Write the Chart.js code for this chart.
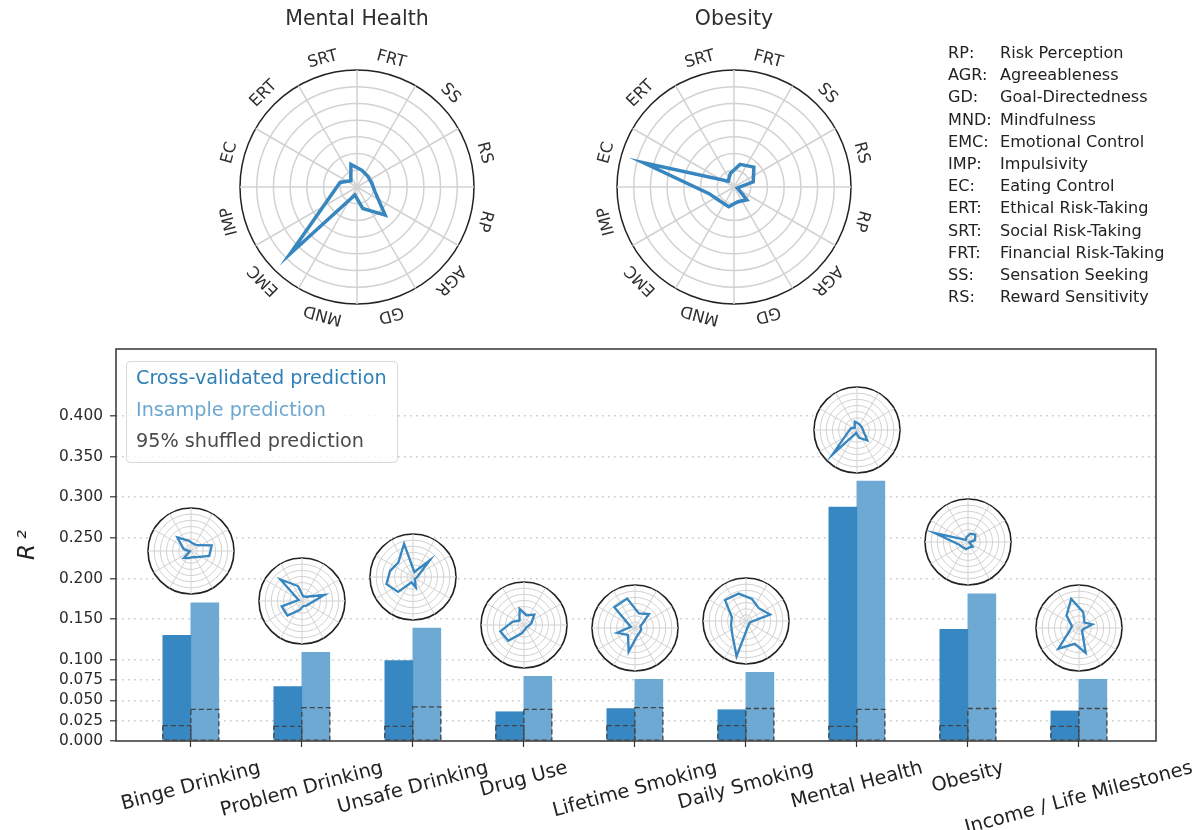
<!DOCTYPE html>
<html>
<head>
<meta charset="utf-8">
<title>Prediction of health outcomes from risk traits</title>
<script src="https://cdn.jsdelivr.net/npm/chart.js@4.4.1/dist/chart.umd.min.js"></script>
<style>
  html, body { margin: 0; padding: 0; background: #ffffff; }
  #page { position: relative; width: 1203px; height: 830px; overflow: hidden; font-family: 'DejaVu Sans', sans-serif; }
  #page canvas { position: absolute; }
  #abbr { position: absolute; left: 948px; top: 42px; font-size: 16.1px; line-height: 22.2px; color: #222; }
  #abbr div { white-space: nowrap; }
  #abbr span.code { display: inline-block; width: 52px; }
</style>
</head>
<body>
<div id="page">
  <canvas id="bars" width="1203" height="830" style="left:0;top:0"></canvas>
  <canvas id="radarMental" width="320" height="360" style="left:197px;top:0"></canvas>
  <canvas id="radarObesity" width="320" height="360" style="left:574px;top:0"></canvas>
  <div id="abbr"></div>
</div>
<script>
// ---- data -------------------------------------------------------------
const categories = ['Binge Drinking', 'Problem Drinking', 'Unsafe Drinking', 'Drug Use',
  'Lifetime Smoking', 'Daily Smoking', 'Mental Health', 'Obesity', 'Income / Life Milestones'];

const seriesNames = ['Cross-validated prediction', 'Insample prediction', '95% shuffled prediction'];

const cvR2            = [0.130, 0.067, 0.099, 0.036, 0.040, 0.0385, 0.288, 0.1375, 0.037];
const insampleR2      = [0.170, 0.109, 0.139, 0.0795, 0.076, 0.0845, 0.320, 0.181, 0.076];
const shuffledCvR2    = [0.019, 0.018, 0.018, 0.019, 0.019, 0.019, 0.018, 0.019, 0.018];
const shuffledInR2    = [0.039, 0.041, 0.042, 0.039, 0.041, 0.040, 0.039, 0.040, 0.040];

const yTickValues = [0, 0.025, 0.05, 0.075, 0.1, 0.15, 0.2, 0.25, 0.3, 0.35, 0.4];

const traitCodes = ['RP', 'AGR', 'GD', 'MND', 'EMC', 'IMP', 'EC', 'ERT', 'SRT', 'FRT', 'SS', 'RS'];
const traitNames = ['Risk Perception', 'Agreeableness', 'Goal-Directedness', 'Mindfulness',
  'Emotional Control', 'Impulsivity', 'Eating Control', 'Ethical Risk-Taking',
  'Social Risk-Taking', 'Financial Risk-Taking', 'Sensation Seeking', 'Reward Sensitivity'];

// trait weight profiles (order of traitCodes), radius as fraction of the outer ring
const profileBinge    = [0.44, 0.20, 0.15, 0.17, 0.23, 0.03, 0.18, 0.45, 0.25, 0.18, 0.19, 0.50];
const profileProblem  = [0.20, 0.15, 0.12, 0.22, 0.48, 0.49, 0.08, 0.71, 0.36, 0.11, 0.14, 0.54];
const profileUnsafe   = [0.08, 0.06, 0.25, 0.13, 0.49, 0.64, 0.55, 0.48, 0.80, 0.12, 0.55, 0.13];
const profileDrug     = [0.10, 0.08, 0.10, 0.20, 0.52, 0.57, 0.28, 0.15, 0.39, 0.23, 0.34, 0.18];
const profileLifetime = [0.15, 0.15, 0.19, 0.57, 0.23, 0.43, 0.10, 0.68, 0.71, 0.35, 0.46, 0.13];
const profileDaily    = [0.10, 0.10, 0.15, 0.85, 0.45, 0.36, 0.34, 0.69, 0.66, 0.53, 0.42, 0.58];
const profileMental   = [0.16, 0.34, 0.19, 0.07, 0.81, 0.22, 0.15, 0.075, 0.20, 0.15, 0.13, 0.13];
const profileObesity  = [0.03, 0.155, 0.13, 0.175, 0.17, 0.22, 0.80, 0.07, 0.12, 0.20, 0.24, 0.17];
const profileIncome   = [0.10, 0.10, 0.60, 0.38, 0.68, 0.22, 0.17, 0.41, 0.70, 0.38, 0.18, 0.32];

// ---- styling ----------------------------------------------------------
const FONT = 'DejaVu Sans';
const CV_COLOR = '#3787c2';
const IN_COLOR = '#6ea9d3';
const LINE_COLOR = '#3786bf';
const RING_GRAY = '#d2d2d2';
const X_MIN = -0.674, X_MAX = 8.695;
const Y_MAX = 0.4825;

const profiles = [profileBinge, profileProblem, profileUnsafe, profileDrug, profileLifetime,
  profileDaily, profileMental, profileObesity, profileIncome];

// ---- bar chart plugins --------------------------------------------------
const shuffledOutline = {
  id: 'shuffledOutline',
  afterDatasetsDraw(chart) {
    const ctx = chart.ctx;
    ctx.save();
    ctx.strokeStyle = '#444';
    ctx.lineWidth = 1.3;
    ctx.setLineDash([5, 3]);
    chart.data.datasets.forEach((ds, di) => {
      if (!ds.shuffled) return;
      chart.getDatasetMeta(di).data.forEach(el => {
        const p = el.getProps(['x', 'y', 'base', 'width'], true);
        ctx.strokeRect(p.x - p.width / 2, p.y, p.width, p.base - p.y);
      });
    });
    ctx.restore();
  }
};

const frameAndLegend = {
  id: 'frameAndLegend',
  afterDatasetsDraw(chart) {
    const ctx = chart.ctx;
    const a = chart.chartArea;
    ctx.save();
    // plot frame
    ctx.strokeStyle = '#333';
    ctx.lineWidth = 1.5;
    ctx.strokeRect(a.left, a.top, a.right - a.left, a.bottom - a.top);
    // legend box
    const bx = a.left + 10.5, by = a.top + 12.5, bw = 271, bh = 101, r = 4;
    ctx.beginPath();
    ctx.moveTo(bx + r, by);
    ctx.arcTo(bx + bw, by, bx + bw, by + bh, r);
    ctx.arcTo(bx + bw, by + bh, bx, by + bh, r);
    ctx.arcTo(bx, by + bh, bx, by, r);
    ctx.arcTo(bx, by, bx + bw, by, r);
    ctx.closePath();
    ctx.fillStyle = 'rgba(255,255,255,0.8)';
    ctx.fill();
    ctx.strokeStyle = '#d8d8d8';
    ctx.lineWidth = 1;
    ctx.stroke();
    const colors = ['#2f80b8', '#6ca7d0', '#4a4a4a'];
    ctx.font = '19.2px "' + FONT + '"';
    ctx.textAlign = 'left';
    ctx.textBaseline = 'middle';
    seriesNames.forEach((name, i) => {
      ctx.fillStyle = colors[i];
      ctx.fillText(name, a.left + 20, a.top + 30.5 + i * 31.2);
    });
    ctx.restore();
  }
};

const slantedCategoryLabels = {
  id: 'slantedCategoryLabels',
  afterDraw(chart) {
    const ctx = chart.ctx;
    const xs = chart.scales.x;
    const size = 19.4;
    const ang = 15 * Math.PI / 180;
    const top = chart.chartArea.bottom + 16;
    ctx.save();
    ctx.font = size + 'px "' + FONT + '"';
    ctx.fillStyle = '#222';
    ctx.textAlign = 'center';
    ctx.textBaseline = 'middle';
    categories.forEach((label, i) => {
      const w = ctx.measureText(label).width;
      const h = size * 1.16;
      const boxH = w * Math.sin(ang) + h * Math.cos(ang);
      const x = xs.getPixelForValue(i);
      ctx.save();
      ctx.translate(x, top + boxH / 2);
      ctx.rotate(-ang);
      ctx.fillText(label, 0, 0);
      ctx.restore();
    });
    ctx.restore();
  }
};

const toPoints = arr => arr.map((v, i) => ({ x: i, y: v }));

const barChart = new Chart(document.getElementById('bars'), {
  type: 'bar',
  data: {
    datasets: [
      { label: seriesNames[0], data: toPoints(cvR2), backgroundColor: CV_COLOR, stack: 'cv', barThickness: 28, borderWidth: 0 },
      { label: seriesNames[1], data: toPoints(insampleR2), backgroundColor: IN_COLOR, stack: 'in', barThickness: 28, borderWidth: 0 },
      { label: seriesNames[2], data: toPoints(shuffledCvR2), backgroundColor: 'rgba(0,0,0,0)', stack: 'cv', barThickness: 28, borderWidth: 0, shuffled: true },
      { label: seriesNames[2], data: toPoints(shuffledInR2), backgroundColor: 'rgba(0,0,0,0)', stack: 'in', barThickness: 28, borderWidth: 0, shuffled: true }
    ]
  },
  options: {
    responsive: false,
    animation: false,
    events: [],
    layout: { padding: { left: 0, top: 349, right: 47, bottom: 0 } },
    plugins: { legend: { display: false }, tooltip: { enabled: false } },
    scales: {
      x: {
        type: 'linear', min: X_MIN, max: X_MAX, offset: false, bounds: 'data',
        afterBuildTicks: s => { s.ticks = categories.map((c, i) => ({ value: i })); },
        afterFit: s => { s.height = 89; },
        ticks: { display: false },
        grid: { offset: false, drawOnChartArea: false, drawTicks: true, tickLength: 6, tickColor: '#333', tickWidth: 1.2 },
        border: { display: false }
      },
      y: {
        type: 'linear', min: 0, max: Y_MAX, stacked: false, bounds: 'data',
        afterBuildTicks: s => { s.ticks = yTickValues.map(v => ({ value: v })); },
        afterFit: s => { s.width = 116; },
        ticks: { callback: v => v.toFixed(3), color: '#2a2a2a', font: { family: FONT, size: 15.4 }, padding: 7 },
        grid: {
          color: c => (c.tick && c.tick.value === 0) ? 'rgba(0,0,0,0)' : '#c8c8c8',
          lineWidth: 1.6, tickColor: '#333', tickLength: 6, tickWidth: 1.2
        },
        border: { display: false, dash: [1.6, 4.4] },
        title: {
          display: true, text: 'R\u2009\u00b2', color: '#222',
          font: { family: FONT, size: 23, style: 'italic' },
          padding: { top: 14, bottom: 0 }
        }
      }
    }
  },
  plugins: [frameAndLegend, shuffledOutline, slantedCategoryLabels]
});

// ---- radar charts --------------------------------------------------------
// 24 angular slots of 15 degrees: traits sit on odd slots, spokes on even slots
const slotOf = i => (7 + 2 * i) % 24;
function toSlots(values) {
  const s = new Array(24).fill(null);
  values.forEach((v, i) => { s[slotOf(i)] = v; });
  return s;
}
const slotLabels = new Array(24).fill('');
traitCodes.forEach((c, i) => { slotLabels[slotOf(i)] = c; });

function tangentLabels(gap, size) {
  return {
    id: 'tangentLabels',
    afterDraw(chart) {
      const r = chart.scales.r;
      const ctx = chart.ctx;
      ctx.save();
      ctx.font = size + 'px "' + FONT + '"';
      ctx.fillStyle = '#2e2e2e';
      ctx.textAlign = 'center';
      ctx.textBaseline = 'middle';
      chart.data.labels.forEach((lab, i) => {
        if (!lab) return;
        const p = r.getPointPosition(i, r.drawingArea + gap);
        ctx.save();
        ctx.translate(p.x, p.y);
        ctx.rotate(r.getIndexAngle(i));
        ctx.fillText(lab, 0, 0);
        ctx.restore();
      });
      ctx.restore();
    }
  };
}

function makeRadar(canvas, values, style) {
  const isRim = c => c.tick && c.tick.value > 0.999;
  return new Chart(canvas, {
    type: 'radar',
    data: {
      labels: slotLabels,
      datasets: [{
        data: toSlots(values), borderColor: LINE_COLOR, borderWidth: style.lineWidth,
        pointRadius: 0, pointHoverRadius: 0, fill: false, spanGaps: true, tension: 0,
        borderJoinStyle: 'miter'
      }]
    },
    options: {
      responsive: false,
      animation: false,
      events: [],
      layout: { padding: style.padding },
      plugins: {
        legend: { display: false },
        tooltip: { enabled: false },
        title: style.title ? {
          display: true, text: style.title, color: '#2e2e2e',
          font: { family: FONT, size: 20.5, weight: 'normal' },
          padding: { top: 7, bottom: 0 }
        } : { display: false }
      },
      scales: {
        r: {
          min: 0, max: 1, startAngle: 0, backgroundColor: '#ffffff',
          ticks: { display: false, count: 8 },
          pointLabels: { display: false },
          angleLines: {
            color: c => (c.index % 2 === 0) ? RING_GRAY : 'rgba(0,0,0,0)',
            lineWidth: style.gridWidth
          },
          grid: {
            circular: true,
            color: c => isRim(c) ? '#222' : RING_GRAY,
            lineWidth: c => isRim(c) ? style.rimWidth : style.gridWidth
          }
        }
      }
    },
    plugins: style.labels ? [tangentLabels(15, 16.4)] : []
  });
}

const bigStyle = t => ({
  title: t, labels: true, lineWidth: 3.5, gridWidth: 1.5, rimWidth: 1.5,
  padding: { left: 43, right: 43, top: 0, bottom: 16 }
});
makeRadar(document.getElementById('radarMental'), profileMental, bigStyle('Mental Health'));
makeRadar(document.getElementById('radarObesity'), profileObesity, bigStyle('Obesity'));

// small profiles sit above each bar pair
const page = document.getElementById('page');
const xs = barChart.scales.x, ys = barChart.scales.y;
categories.forEach((c, i) => {
  const cx = xs.getPixelForValue(i);
  const cy = ys.getPixelForValue(Math.max(cvR2[i], insampleR2[i])) - 51.5;
  const cv = document.createElement('canvas');
  cv.width = 92; cv.height = 92;
  cv.style.left = Math.round(cx - 46) + 'px';
  cv.style.top = Math.round(cy - 46) + 'px';
  page.appendChild(cv);
  makeRadar(cv, profiles[i], { lineWidth: 2.3, gridWidth: 1, rimWidth: 1.6, padding: 3 });
});

// trait abbreviation key
const abbr = document.getElementById('abbr');
traitCodes.forEach((code, i) => {
  const row = document.createElement('div');
  const k = document.createElement('span');
  k.className = 'code';
  k.textContent = code + ':';
  row.appendChild(k);
  row.appendChild(document.createTextNode(traitNames[i]));
  abbr.appendChild(row);
});
</script>
</body>
</html>
